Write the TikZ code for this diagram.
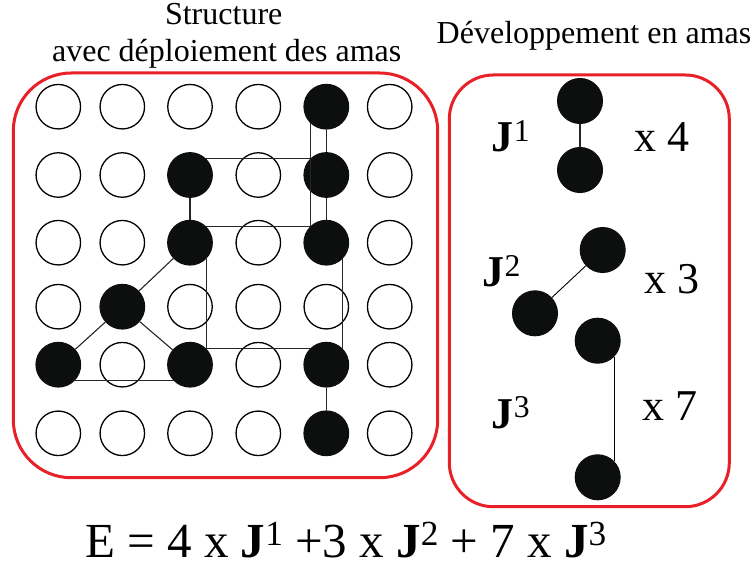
\documentclass[tikz,border=0pt]{standalone}
\usepackage{fontspec}
\setmainfont{Liberation Serif}
\usepackage{graphicx}
\definecolor{boxred}{RGB}{232,32,40}
\definecolor{dotblack}{RGB}{13,15,14}
\newcommand\supx[1]{\raisebox{.24em}{\scalebox{.72}{#1}}}
\newcommand\Jx[1]{\textbf{J}\supx{#1}}
\begin{document}
\begin{tikzpicture}[x=1pt,y=-1pt,
  site/.style={circle,draw=black,line width=1.3pt,minimum size=44.5pt,inner sep=0pt,fill=white},
  full/.style={fill=dotblack,draw=dotblack},
  dot/.style={circle,fill=dotblack,draw=dotblack,line width=1pt,minimum size=45pt,inner sep=0pt},
  bond/.style={line width=1.1pt,draw=black!85},
  thinbond/.style={line width=0.9pt,draw=black},
  panel/.style={draw=boxred,line width=3pt},
  title/.style={anchor=base,inner sep=0pt,font=\fontsize{32}{36}\selectfont},
  jlab/.style={anchor=base west,inner sep=0pt,font=\fontsize{44}{48}\selectfont},
  s04/.style=full, s12/.style=full, s14/.style=full, s22/.style=full, s24/.style=full,
  s31/.style=full, s40/.style=full, s42/.style=full, s44/.style=full, s54/.style=full]
\useasboundingbox (0,0) rectangle (755,567);

% titles
\node[title] (t1) at (223.7,25) {Structure};
\node[title] (t2) at (226.7,61.7) {avec déploiement des amas};
\node[title] (t3) at (594,43.3) {Développement en amas};

% panels
\draw[panel,rounded corners=58pt] (13.3,73) rectangle (437.7,477.7);
\draw[panel,rounded corners=44pt] (449.3,75) rectangle (729.3,506.7);

% grid
\foreach \r/\y in {0/106.7,1/175,2/242.7,3/306.7,4/364.7,5/433.3}{
  \foreach \c/\x in {0/58.3,1/122.3,2/190,3/258.3,4/326.3,5/389.7}{
    \node[site,s\r\c/.try] (n\r\c) at (\x,\y) {};
  }
}

% bonds in the structure
\draw[bond] (n04) -- (n14);
\draw[bond] (n14) -- (n24);
\draw[bond] (n44) -- (n54);
\draw[bond] (n12) -- (n22);
\draw[bond] (n04.225) -- (n24.135);
\draw[bond] (n12.45) -- (n12.45 -| n04.225);
\draw[bond] (n22.45) -- (n24.135);
\draw[bond] (n22.315) -- (n42.45) -- (n44.135);
\draw[bond] (n24.315) -- (n44.45);
\draw[bond] (n22) -- (n31);
\draw[bond] (n31) -- (n40);
\draw[bond] (n31) -- (n42);
\draw[bond] (n40.315) -- (n42.225);

% cluster expansion
\node[dot] (a1) at (580,101) {};
\node[dot] (a2) at (580,170) {};
\node[dot] (b1) at (602.7,250) {};
\node[dot] (b2) at (535,313.3) {};
\node[dot] (c1) at (597.7,340.7) {};
\node[dot] (c2) at (597.7,477.3) {};
\draw[bond] (a1) -- (a2);
\draw[thinbond] (b1) -- (b2);
\draw[thinbond] (c1.315) -- (c2.45);

\node[jlab] (j1) at (491.7,151.7) {\Jx{1}};
\node[jlab] (m1) at (634.3,151.7) {x 4};
\node[jlab] (j2) at (482.3,286.7) {\Jx{2}};
\node[jlab] (m2) at (644,293.3) {x 3};
\node[jlab] (j3) at (491.7,428.3) {\Jx{3}};
\node[jlab] (m3) at (642.7,420) {x 7};

% equation
\node[anchor=base west,inner sep=0pt,font=\fontsize{49}{54}\selectfont] (eq) at (85,557)
  {E = 4 x \Jx{1} +3 x \Jx{2} + 7 x \Jx{3}};
\end{tikzpicture}
\end{document}
